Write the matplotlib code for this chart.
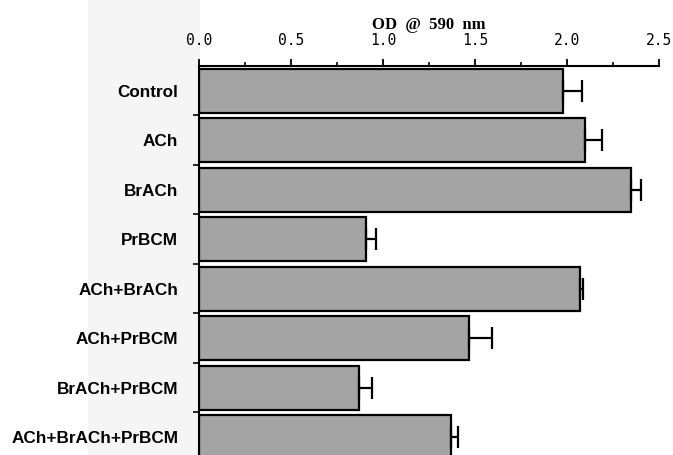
import matplotlib
matplotlib.use("Agg")
import matplotlib.pyplot as plt
from matplotlib.ticker import MultipleLocator, FixedLocator
import numpy as np

categories = ["Control", "ACh", "BrACh", "PrBCM", "ACh+BrACh",
              "ACh+PrBCM", "BrACh+PrBCM", "ACh+BrACh+PrBCM"]
values = [1.98, 2.10, 2.35, 0.91, 2.07, 1.47, 0.87, 1.37]
errors = [0.10, 0.09, 0.05, 0.05, 0.015, 0.125, 0.07, 0.035]
xticks = [0.0, 0.5, 1.0, 1.5, 2.0, 2.5]
xticklabels = ["0.0", "0.5", "1.0", "1.5", "2.0", "2.5"]

fig = plt.figure(figsize=(6.73, 4.55), dpi=100)
# faint scan shading on the left
shade = plt.Rectangle((88 / 673, 0), (199 - 88) / 673, 1,
                      transform=fig.transFigure, color="#f5f5f5", zorder=-10)
fig.add_artist(shade)
ax = fig.add_axes([199 / 673, 0.0, (659 - 199) / 673, 1 - 66 / 455])
ax.set_facecolor("none")
ax.set_zorder(1)

y = np.arange(len(categories))
ax.barh(y, values, height=0.89, color="#a4a4a4", edgecolor="black",
        linewidth=1.6, zorder=2)
ax.errorbar(values, y, xerr=[np.zeros(len(errors)), errors], fmt="none",
            ecolor="black", elinewidth=1.6, capsize=8, capthick=1.6, zorder=3)

ax.set_xlim(0, 2.5)
ax.set_ylim(7.36, -0.5)

ax.xaxis.set_ticks_position("top")
ax.xaxis.set_label_position("top")
ax.set_xticks(xticks)
ax.set_xticklabels(xticklabels, family="DejaVu Sans Mono", fontsize=10.5)
ax.xaxis.set_minor_locator(MultipleLocator(0.25))
ax.tick_params(axis="x", which="major", direction="out", length=5, width=1.3, pad=8)
ax.tick_params(axis="x", which="minor", direction="out", length=3, width=1.2)
ax.set_xlabel("OD  @  590  nm", family="Liberation Serif", fontweight="bold",
              fontsize=12, labelpad=3)

ax.set_yticks(y)
ax.set_yticklabels(categories, family="Liberation Sans", fontweight="bold", fontsize=12.3)
ax.tick_params(axis="y", which="major", length=0, pad=15)
ax.yaxis.set_minor_locator(FixedLocator(np.arange(0.5, 8, 1)))
ax.tick_params(axis="y", which="minor", direction="out", length=4, width=1.2)

for s in ["right", "bottom"]:
    ax.spines[s].set_visible(False)
for s in ["top", "left"]:
    ax.spines[s].set_linewidth(1.5)

fig.savefig("out.png", dpi=100)
